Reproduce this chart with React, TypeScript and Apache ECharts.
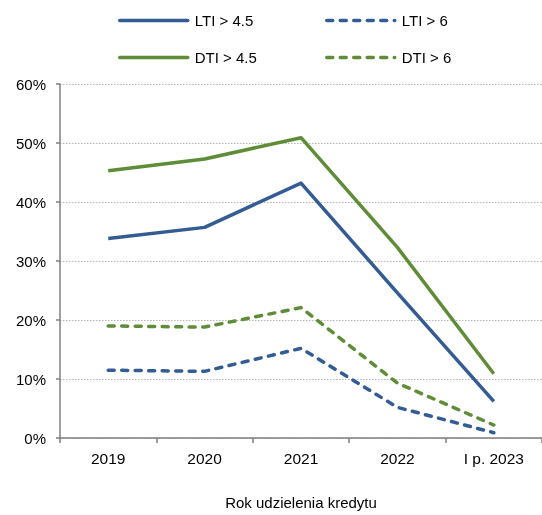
import React, { useEffect, useRef } from "react";
import * as echarts from "echarts";

// Udział kredytów wg roku udzielenia (%)
const years = ["2019", "2020", "2021", "2022", "I p. 2023"];
const lti45 = [33.8, 35.7, 43.2, 24.6, 6.2];
const lti6 = [11.5, 11.3, 15.2, 5.2, 0.9];
const dti45 = [45.3, 47.3, 50.9, 32.3, 10.9];
const dti6 = [19.0, 18.8, 22.1, 9.3, 2.2];
const yTicks = [0, 10, 20, 30, 40, 50, 60];

const BLUE = "#335B94";
const GREEN = "#5E8C37";
const FONT = "'Liberation Sans', Arial, sans-serif";
const DASH = [6, 7.5];

export default function App() {
  const ref = useRef<HTMLDivElement>(null);

  useEffect(() => {
    if (!ref.current) return;
    const chart = echarts.init(ref.current, undefined, { renderer: "svg" });

    const line = (name: string, data: number[], color: string, dashed: boolean) => ({
      name,
      type: "line",
      data,
      symbol: "none",
      lineStyle: {
        color,
        width: 3.5,
        type: dashed ? DASH : "solid",
        cap: dashed ? "round" : "butt",
        join: "round",
      },
      itemStyle: { color },
      z: dashed ? 2 : 3,
    });

    const legendBase = {
      top: 8,
      orient: "vertical",
      itemWidth: 68,
      itemHeight: 14,
      itemGap: 22,
      itemStyle: { opacity: 0 },
      lineStyle: { width: 3.5, cap: "round" },
      textStyle: { fontFamily: FONT, fontSize: 15, color: "#000", padding: [0, 0, 0, 2] },
    };

    chart.setOption({
      animation: false,
      textStyle: { fontFamily: FONT },
      legend: [
        { ...legendBase, left: 113, data: ["LTI > 4.5", "DTI > 4.5"] },
        { ...legendBase, left: 320, data: ["LTI > 6", "DTI > 6"] },
      ],
      grid: { left: 60, top: 84, width: 486, height: 362, containLabel: false },
      xAxis: {
        type: "category",
        data: years,
        boundaryGap: true,
        name: "Rok udzielenia kredytu",
        nameLocation: "middle",
        nameGap: 57,
        nameTextStyle: { fontFamily: FONT, fontSize: 15, color: "#000" },
        axisLine: { lineStyle: { color: "#7F7F7F", width: 1.5 } },
        axisTick: { show: true, length: 5, lineStyle: { color: "#7F7F7F", width: 1.5 } },
        axisLabel: { fontFamily: FONT, fontSize: 15.5, color: "#000", margin: 12 },
        splitLine: { show: false },
      },
      yAxis: {
        type: "value",
        min: yTicks[0],
        max: yTicks[yTicks.length - 1],
        interval: 10,
        axisLine: { show: true, lineStyle: { color: "#7F7F7F", width: 1.5 } },
        axisTick: { show: true, length: 4, lineStyle: { color: "#7F7F7F", width: 1.5 } },
        axisLabel: {
          fontFamily: FONT,
          fontSize: 15,
          color: "#000",
          margin: 14,
          formatter: "{value}%",
        },
        splitLine: { show: true, lineStyle: { color: "#B4B4B4", width: 1, type: [1.5, 1.5] } },
      },
      series: [
        line("LTI > 4.5", lti45, BLUE, false),
        line("LTI > 6", lti6, BLUE, true),
        line("DTI > 4.5", dti45, GREEN, false),
        line("DTI > 6", dti6, GREEN, true),
      ],
    });

    return () => chart.dispose();
  }, []);

  return (
    <div
      ref={ref}
      style={{ position: "fixed", left: 0, top: 0, width: 542, height: 515, overflow: "hidden" }}
    />
  );
}
